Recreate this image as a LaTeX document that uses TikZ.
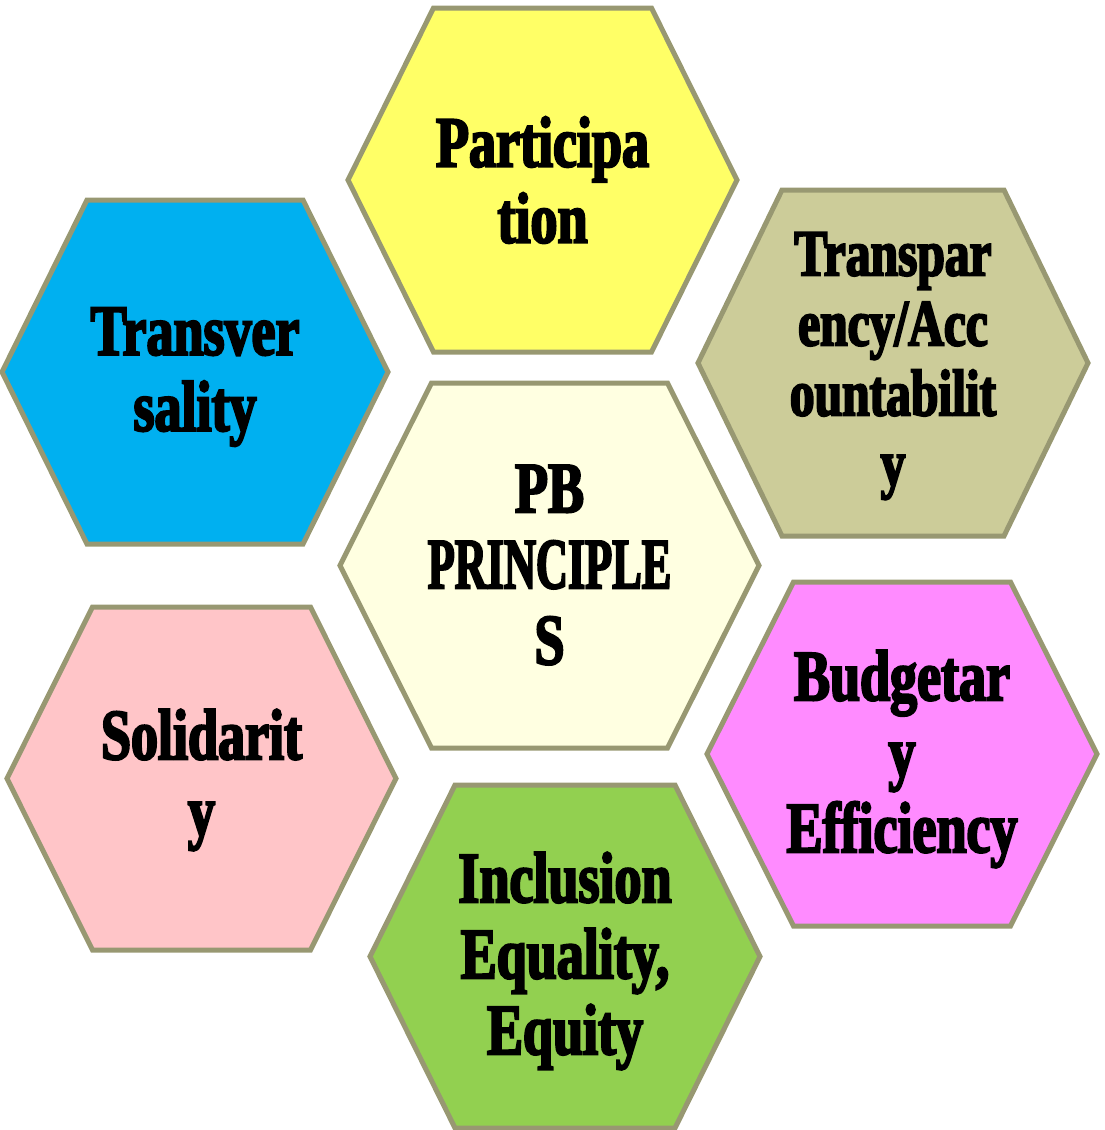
\documentclass[tikz,border=0pt]{standalone}
\usepackage{fontspec}
\newfontfamily\hexfont{Liberation Serif Bold}[FakeStretch=0.75,FakeBold=3]
\definecolor{hexline}{RGB}{152,152,114}
\definecolor{cYellow}{HTML}{FFFF66}
\definecolor{cBlue}{HTML}{00B0F0}
\definecolor{cTan}{HTML}{CCCC99}
\definecolor{cCenter}{HTML}{FFFFE1}
\definecolor{cPink}{HTML}{FFC5C8}
\definecolor{cMagenta}{HTML}{FF8BFF}
\definecolor{cGreen}{HTML}{92D050}
\tikzset{
  hexa/.style={draw=hexline, line width=5pt, line join=miter},
  lbl/.style={font={\hexfont\fontsize{72}{76}\selectfont}, align=center, inner sep=0pt, text=black},
  lblsmall/.style={lbl, font={\hexfont\fontsize{66}{70}\selectfont}}
}
% fill colour, cx, cy, half width, half top edge, half height
\newcommand\drawhex[6]{%
  \filldraw[hexa, fill=#1] (#2-#4,#3) -- (#2-#5,#3-#6) -- (#2+#5,#3-#6) -- (#2+#4,#3)
    -- (#2+#5,#3+#6) -- (#2-#5,#3+#6) -- cycle;}
\begin{document}
\begin{tikzpicture}[x=1pt,y=-1pt]
\useasboundingbox (0,0) rectangle (1104,1130);
\drawhex{cYellow}{542.5}{180}{194.5}{109}{172}
\drawhex{cTan}{893}{363}{195}{111}{173}
\drawhex{cBlue}{195}{372}{193}{108}{172}
\drawhex{cCenter}{549.5}{565.5}{209.5}{118}{182.5}
\drawhex{cPink}{201.5}{778.5}{194.5}{109}{171.5}
\drawhex{cMagenta}{902}{754}{195}{108.5}{172}
\drawhex{cGreen}{565}{956.5}{195}{110}{171.5}

\node[lbl] (part) at (542.5,180) {Participa\\tion};
\node[lblsmall] (transp) at (893,366) {Transpar\\ency/Acc\\ountabilit\\y};
\node[lbl] (transv) at (195,377) {Transver\\sality};
\node[lbl] (pb) at (549.5,565) {PB\\\scalebox{0.82}[1]{PRINCIPLE}\\S};
\node[lbl] (solid) at (201.5,780) {Solidarit\\y};
\node[lbl] (budget) at (902,759) {Budgetar\\y\\Efficiency};
\node[lbl] (incl) at (565,961) {Inclusion\\Equality,\\Equity};
\end{tikzpicture}
\end{document}
